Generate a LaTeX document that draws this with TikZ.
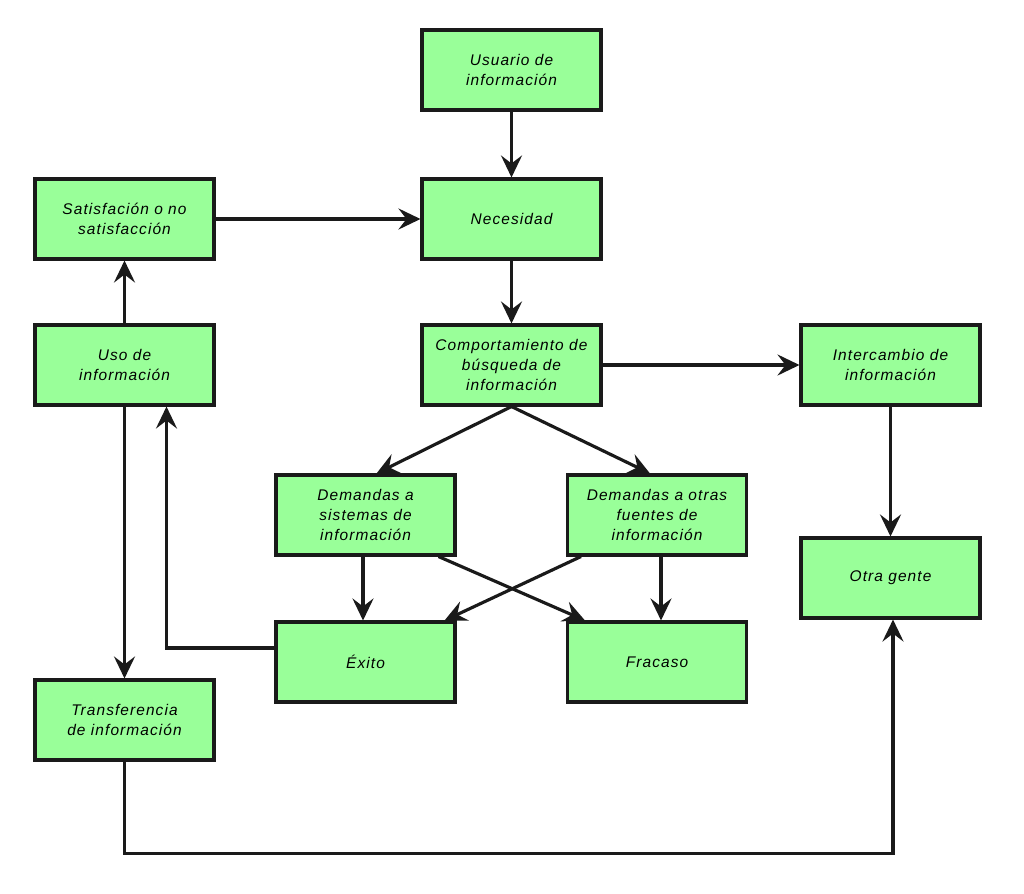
\documentclass[tikz,border=0pt]{standalone}
\usepackage{xcolor}
\usepackage{fontspec}
\usepackage{tikz}
\usetikzlibrary{arrows, arrows.meta, positioning}
\newfontfamily\boxfont[LetterSpace=7]{Liberation Sans}
\definecolor{boxgreen}{HTML}{99FF99}
\definecolor{boxline}{HTML}{1A1A1A}

\begin{document}
\begin{tikzpicture}[x=0.02cm, y=-0.02cm,
			>={Stealth[length=0.44cm, width=0.42cm, inset=0.16cm]},
			thick,
			box/.style={draw=boxline, fill=boxgreen, line width=1.75pt,
				minimum width=3.58cm, minimum height=1.6cm, inner sep=2pt,
				align=center, font=\boxfont\itshape\fontsize{8.8}{11.2}\selectfont},
			link/.style={->, draw=boxline, line width=1.8pt}]
			
			\useasboundingbox (0,0) rectangle (1024,893);
			
			\node[box] (usuario) at (511.5,70) {Usuario de\\información};
			\node[box] (necesidad) at (511.5,219) {Necesidad};
			\node[box] (satisf) at (124.5,219) {Satisfación o no\\ satisfacción};
			\node[box] (comport) at (511.5,365) {Comportamiento de\\búsqueda de\\información};
			\node[box] (uso) at (124.5,365) {Uso de\\información};
			\node[box] (intercambio) at (890.5,365) {Intercambio de\\información};
			\node[box] (demsis) at (365.5,515) {Demandas a\\sistemas de\\ información};
			\node[box] (demotras) at (657,515) {Demandas a otras\\fuentes de\\información};
			\node[box] (otra) at (890.5,578) {Otra gente};
			\node[box] (exito) at (365.5,662) {Éxito};
			\node[box] (fracaso) at (657,662) {Fracaso};
			\node[box] (transf) at (124.5,720) {Transferencia\\de información};
			
			\draw[link] (usuario) -- (necesidad);
			\draw[link] (satisf) -- (necesidad);
			\draw[link] (necesidad) -- (comport);
			\draw[link] (comport) -- (intercambio);
			\draw[link] (comport.south) -- ([xshift=0.22cm]demsis.north);
			\draw[link] (comport.south) -- ([xshift=-0.14cm]demotras.north);
			\draw[link] (uso) -- (satisf);
			\draw[link] (uso) -- (transf);
			\draw[link] ([yshift=0.28cm]exito.west) -| ([xshift=0.84cm]uso.south);
			\draw[link] ([xshift=-0.05cm]demsis.south) -- ([xshift=-0.05cm]exito.north);
			\draw[link] ([xshift=0.08cm]demotras.south) -- ([xshift=0.08cm]fracaso.north);
			\draw[link] ([xshift=-0.36cm]demsis.south east) -- ([xshift=0.38cm]fracaso.north west);
			\draw[link] ([xshift=0.3cm]demotras.south west) -- ([xshift=-0.24cm]exito.north east);
			\draw[link] (intercambio) -- (otra);
			\draw[link] (transf.south) -- ++(0,92) -| ([xshift=0.05cm]otra.south);
		\end{tikzpicture}
\end{document}
